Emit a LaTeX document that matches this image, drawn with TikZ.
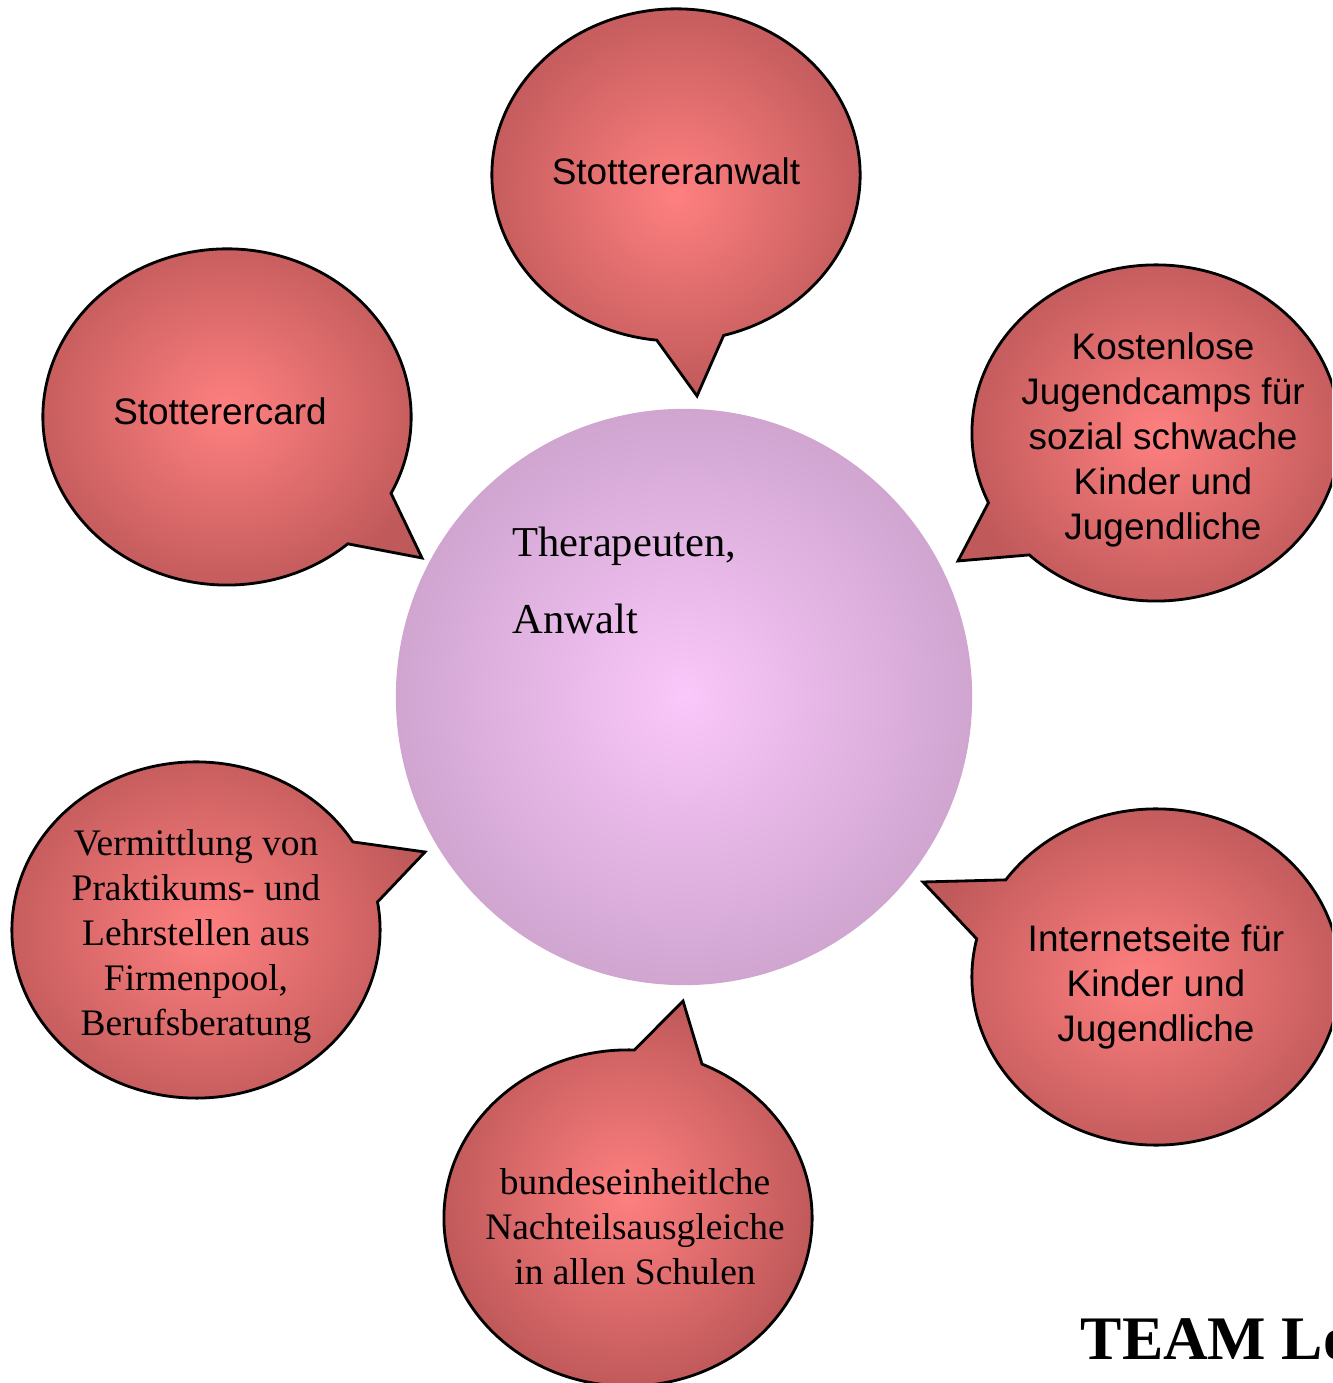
\documentclass[tikz,border=0pt]{standalone}
\usepackage{fontspec}
\setmainfont{Liberation Serif}
\setsansfont{Liberation Sans}
\usetikzlibrary{calc}
\definecolor{bubIn}{HTML}{FF8080}
\definecolor{bubOut}{HTML}{C0595A}
\definecolor{ballIn}{HTML}{FAC8FA}
\definecolor{ballOut}{HTML}{D0A5D0}
\tikzset{
  bubble/.style={inner color=bubIn, outer color=bubOut, draw=black, line width=0.8pt, line join=miter},
  ball/.style={inner color=ballIn, outer color=ballOut},
  sanstxt/.style={font=\sffamily\fontsize{10.5}{12.8}\selectfont, align=center, text=black, inner sep=0pt},
  seriftxt/.style={font=\rmfamily\fontsize{10.65}{12.8}\selectfont, align=center, text=black, inner sep=0pt},
}
\begin{document}
\begin{tikzpicture}[x=0.01cm, y=0.01cm]
\useasboundingbox (0,0) rectangle (1332,1383);
\clip (0,0) rectangle (1332,1383);

% central ball
\shade[ball] (684,686) circle (2.88cm);

% top bubble
\shade[bubble] ($(676,1208)+(-75:1.84cm and 1.66cm)$)
  arc[start angle=-75, end angle=264, x radius=1.84cm, y radius=1.66cm]
  -- (697,987) -- cycle;
% upper-left bubble
\shade[bubble] ($(227,966)+(-27:1.84cm and 1.68cm)$)
  arc[start angle=-27, end angle=311, x radius=1.84cm, y radius=1.68cm]
  -- (422,825) -- cycle;
% upper-right bubble
\shade[bubble] ($(1156,950)+(226.5:1.84cm and 1.68cm)$)
  arc[start angle=226.5, end angle=564.5, x radius=1.84cm, y radius=1.68cm]
  -- (958,822) -- cycle;
% lower-left bubble
\shade[bubble] ($(196,453)+(31.6:1.84cm and 1.68cm)$)
  arc[start angle=31.6, end angle=369.6, x radius=1.84cm, y radius=1.68cm]
  -- (425,531) -- cycle;
% lower-right bubble
\shade[bubble] ($(1156,406)+(166.9:1.84cm and 1.68cm)$)
  arc[start angle=166.9, end angle=504.7, x radius=1.84cm, y radius=1.68cm]
  -- (923,501) -- cycle;
% bottom bubble
\shade[bubble] ($(628,165)+(88:1.84cm and 1.68cm)$)
  arc[start angle=88, end angle=426.3, x radius=1.84cm, y radius=1.68cm]
  -- (683,382) -- cycle;

% texts
\node[sanstxt] (anwalt) at (676,1212) {Stottereranwalt};
\node[sanstxt] (card) at (220,972) {Stotterercard};
\node[sanstxt] (camps) at (1163,943) {Kostenlose\\Jugendcamps für\\sozial schwache\\Kinder und\\Jugendliche};
\node[sanstxt] (internet) at (1156,396) {Internetseite für\\Kinder und\\Jugendliche};
\node[seriftxt] (praktikum) at (196,446) {Vermittlung von\\Praktikums- und\\Lehrstellen aus\\Firmenpool,\\Berufsberatung};
\node[seriftxt] (schulen) at (635,156) {bundeseinheitlche\\Nachteilsausgleiche\\in allen Schulen};

\node[anchor=base west, inner sep=0pt, font=\rmfamily\fontsize{12.1}{14}\selectfont] (ther) at (512,826) {Therapeuten,};
\node[anchor=base west, inner sep=0pt, font=\rmfamily\fontsize{12.1}{14}\selectfont] (anw) at (512,749) {Anwalt};

\node[anchor=base west, inner sep=0pt, font=\rmfamily\bfseries\fontsize{17.6}{21}\selectfont] (team) at (1080,23) {TEAM Lo};
\end{tikzpicture}
\end{document}
